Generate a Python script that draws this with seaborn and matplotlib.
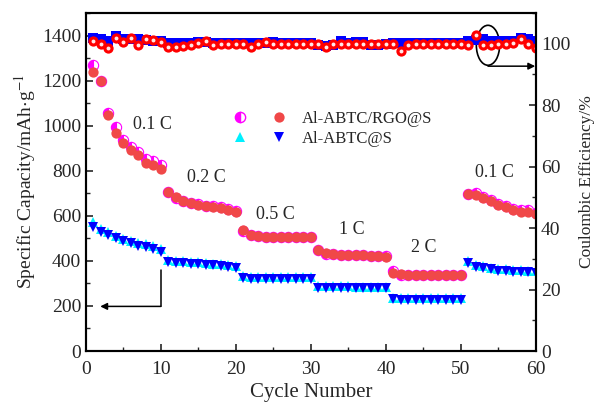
import matplotlib
matplotlib.use("Agg")
import matplotlib.pyplot as plt
from matplotlib.lines import Line2D
from matplotlib.legend_handler import HandlerTuple
from matplotlib.patches import Ellipse
from matplotlib.ticker import MultipleLocator
import numpy as np
import seaborn as sns

cycles = np.arange(1, 61)

# capacity, Al-ABTC/RGO@S (red = charge, magenta = discharge)
rgo_red = [1240, 1200, 1049, 969, 924, 893, 871, 836, 827, 806,
           707, 684, 665, 657, 649, 642, 640, 636, 628, 618,
           535, 516, 510, 507, 507, 506, 506, 506, 506, 505,
           450, 436, 430, 428, 427, 426, 424, 422, 420, 419,
           347, 340, 338, 338, 338, 338, 338, 337, 337, 337,
           697, 692, 680, 664, 650, 640, 628, 619, 618, 606]
rgo_mag = [1268, 1200, 1055, 995, 935, 905, 885, 850, 845, 825,
           705, 680, 664, 658, 652, 645, 645, 640, 630, 620,
           533, 514, 509, 506, 506, 505, 505, 505, 505, 505,
           447, 430, 429, 428, 427, 426, 424, 423, 421, 420,
           356, 337, 337, 337, 337, 337, 337, 336, 336, 336,
           699, 700, 684, 668, 652, 645, 632, 625, 624, 612]

# capacity, Al-ABTC@S (blue = down triangle, cyan = up triangle)
abtc_blue = [551, 529, 516, 502, 489, 480, 466, 462, 453, 440,
             396, 392, 390, 388, 385, 382, 380, 377, 374, 370,
             324, 321, 321, 320, 320, 320, 320, 320, 320, 320,
             281, 279, 279, 279, 279, 278, 278, 278, 278, 278,
             229, 228, 228, 228, 228, 228, 228, 228, 228, 228,
             390, 374, 370, 362, 357, 354, 352, 350, 349, 347]
abtc_cyan = [573, 540, 526, 512, 499, 490, 478, 473, 464, 452,
             404, 400, 398, 396, 393, 390, 388, 386, 383, 379,
             332, 329, 329, 328, 328, 328, 328, 328, 328, 328,
             289, 287, 287, 287, 287, 286, 286, 286, 286, 286,
             237, 236, 236, 236, 236, 236, 236, 236, 236, 236,
             398, 382, 378, 370, 365, 362, 360, 358, 357, 355]

# coulombic efficiency
ce_rgo = [101, 100, 98.5, 102, 100.5, 102, 99.7, 101.5, 101.3, 100.6,
          99, 99, 99.3, 99.7, 100.2, 101, 99.5, 100, 100, 100,
          99.8, 99, 99.8, 100.5, 100, 100, 100, 100, 100, 100,
          99.8, 99, 100, 100, 99.8, 100, 100, 100, 100, 100,
          100, 97.5, 99.5, 100, 100, 100, 100, 100, 100, 100,
          99.5, 103, 99.5, 99.5, 100, 99.8, 100.3, 101.5, 99.8, 98.5]
ce_abtc = [101.8, 101.5, 100.8, 102.5, 101.5, 101.5, 101.5, 101.3, 101, 101,
           100.3, 100.3, 100.3, 100.3, 100.5, 100.5, 100.3, 100.3, 100.3, 100.3,
           100.3, 100.3, 100.3, 100.3, 100.5, 100.3, 100.3, 100.3, 100.3, 100.3,
           99.5, 99.3, 99.5, 100.8, 100.3, 100.5, 100.5, 99.5, 99.5, 99.8,
           100.3, 100.3, 100.3, 100.3, 100.3, 100.3, 100.3, 100.3, 100.3, 100.3,
           100.8, 101.3, 101.5, 101, 100.8, 100.8, 101, 102, 101.5, 101]

rate_labels = ["0.1 C", "0.2 C", "0.5 C", "1 C", "2 C", "0.1 C"]
rate_x = [8.8, 16.1, 25.3, 35.4, 45.0, 54.4]
rate_y = [1004, 769, 604, 538, 458, 791]

sns.set_style("ticks")
plt.rcParams["font.family"] = ["Liberation Serif", "DejaVu Serif"]
plt.rcParams["mathtext.fontset"] = "stix"

fig = plt.figure(figsize=(5.95, 4.03), dpi=100)
ax = fig.add_axes([0.1445, 0.129, 0.7563, 0.8387])
ax2 = ax.twinx()

RED = "#f04848"
ms = 7.4

def dots(axis, y, **kw):
    sns.lineplot(x=cycles, y=y, ax=axis, linestyle="", errorbar=None,
                 markersize=kw.pop("markersize", ms), **kw)

# capacity
dots(ax, rgo_mag, marker="o", color="#ff00ff", fillstyle="left",
     markerfacecoloralt="white", markeredgecolor="#ff00ff", markeredgewidth=0.8)
dots(ax, rgo_red, marker="o", color=RED, markeredgecolor=RED, markeredgewidth=0)
dots(ax, abtc_cyan, marker="^", color="#00f0ff", markeredgecolor="#00f0ff", markeredgewidth=0)
dots(ax, abtc_blue, marker="v", color="#0000ff", markeredgecolor="#0000ff", markeredgewidth=0)

# coulombic efficiency
dots(ax2, ce_abtc, marker="s", color="#0000ff", markeredgecolor="#0000ff",
     markeredgewidth=0, markersize=7.5)
dots(ax2, ce_rgo, marker="o", color="#ff0000", markeredgecolor="#ff0000", markeredgewidth=0)
dots(ax2, ce_rgo, marker="o", color="#ffe8e8", markeredgecolor="#ffe8e8",
     markeredgewidth=0, markersize=2.8)

for lab, xx, yy in zip(rate_labels, rate_x, rate_y):
    ax.text(xx, yy, lab, ha="center", va="center", fontsize=13)

# arrows
ax.plot([10, 10], [360, 198], color="k", lw=1.1)
ax.annotate("", xy=(1.9, 198), xytext=(10, 198),
            arrowprops=dict(arrowstyle="-|>", color="k", lw=1.1,
                            shrinkA=0, shrinkB=0, mutation_scale=10))
ax2.add_patch(Ellipse((53.6, 99.5), 3.1, 13, fill=False, color="k", lw=1.2))
ax2.annotate("", xy=(59.9, 92.7), xytext=(53.6, 92.7),
             arrowprops=dict(arrowstyle="-|>", color="k", lw=1.1,
                             shrinkA=0, shrinkB=0, mutation_scale=10))

ax.set_xlim(0, 60)
ax.set_ylim(0, 1500)
ax2.set_ylim(0, 110)
ax.xaxis.set_major_locator(MultipleLocator(10))
ax.xaxis.set_minor_locator(MultipleLocator(5))
ax.yaxis.set_major_locator(MultipleLocator(200))
ax.yaxis.set_minor_locator(MultipleLocator(100))
ax2.yaxis.set_major_locator(MultipleLocator(20))
ax2.yaxis.set_minor_locator(MultipleLocator(10))

for a in (ax, ax2):
    a.tick_params(which="major", direction="in", length=5, width=1.2, labelsize=14)
    a.tick_params(which="minor", direction="in", length=3, width=1.0)
    for s in a.spines.values():
        s.set_linewidth(1.5)
        s.set_color("k")
ax.tick_params(axis="x", pad=7)

ax.set_xlabel("Cycle Number", fontsize=15, labelpad=4)
ax.set_ylabel("Specific Capacity/mAh$\\cdot$g$^{-1}$", fontsize=14, labelpad=3)
ax2.set_ylabel("Coulombic Efficiency/%", fontsize=12.5, labelpad=6)

h1 = (Line2D([], [], marker="o", linestyle="", markersize=ms, color="#ff00ff",
             fillstyle="left", markerfacecoloralt="white", markeredgecolor="#ff00ff"),
      Line2D([], [], marker="o", linestyle="", markersize=ms, color=RED,
             markeredgewidth=0))
h2 = (Line2D([], [], marker="^", linestyle="", markersize=ms, color="#00f0ff",
             markeredgewidth=0),
      Line2D([], [], marker="v", linestyle="", markersize=ms, color="#0000ff",
             markeredgewidth=0))
ax2.legend([h1, h2], ["Al-ABTC/RGO@S", "Al-ABTC@S"],
           handler_map={tuple: HandlerTuple(ndivide=None, pad=1.0)},
           handlelength=3.7, handletextpad=0.7, labelspacing=0.25, fontsize=12,
           frameon=False, loc="upper left", borderpad=0, borderaxespad=0,
           bbox_to_anchor=(0.384, 0.725), bbox_transform=fig.transFigure)

fig.savefig("out.png", dpi=100)
